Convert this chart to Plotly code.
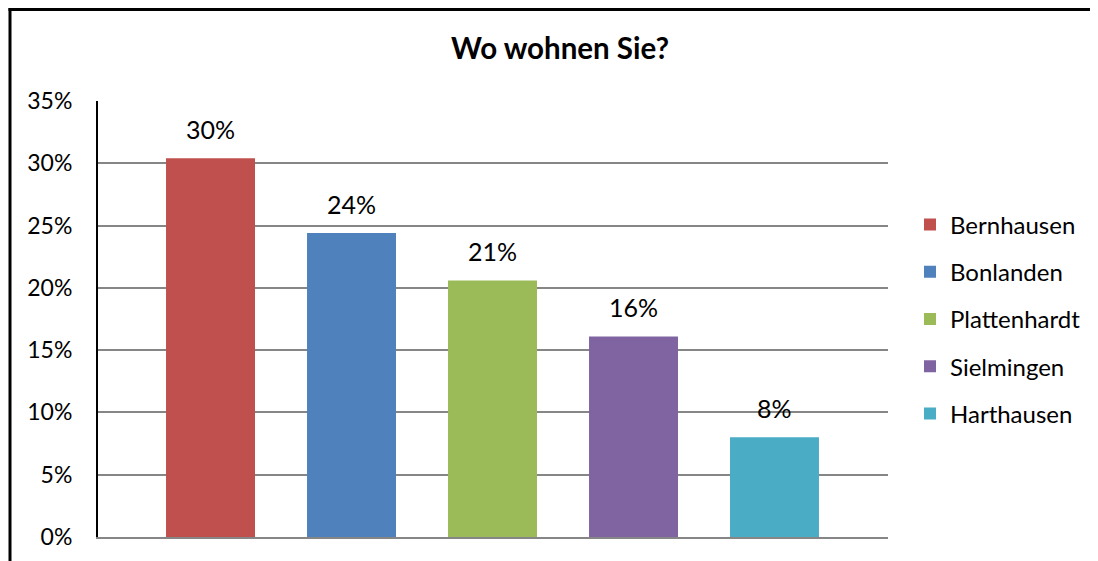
import plotly.graph_objects as go

categories = ["Bernhausen", "Bonlanden", "Plattenhardt", "Sielmingen", "Harthausen"]
values = [0.304, 0.244, 0.206, 0.161, 0.080]
colors = ["#C0504D", "#4F81BD", "#9BBB59", "#8064A2", "#4BACC6"]
tick_vals = [0, 0.05, 0.10, 0.15, 0.20, 0.25, 0.30, 0.35]
title_text = "Wo wohnen Sie?"

# page offset caused by default body margin (8px)
OFF = 8
W, H = 1098 - 2 * OFF, 561 - OFF
L, T, B = 98 - OFF, 101 - OFF, 24
R = W - (888 - OFF)
PW, PH = W - L - R, H - T - B
FONT = "Lato"

fig = go.Figure()
for cat, val, col in zip(categories, values, colors):
    fig.add_trace(go.Bar(
        x=[cat], y=[val], name=cat, marker_color=col, marker_line_width=0,
        width=0.631, legendgroup=cat, hoverinfo="skip",
    ))
    fig.add_annotation(
        x=cat, y=val, text=f"{val:.0%}", showarrow=False, yanchor="bottom",
        yshift=12, font=dict(family=FONT, size=25, color="#000000"),
    )

def px_x(p):
    return (p - OFF - L) / PW

def px_y(p):
    return (H - B - (p - OFF)) / PH

shapes = [
    dict(type="line", xref="paper", yref="paper", x0=px_x(8.5), x1=px_x(1110),
         y0=px_y(9.5), y1=px_y(9.5), line=dict(color="#000000", width=3)),
    dict(type="line", xref="paper", yref="paper", x0=px_x(10), x1=px_x(10),
         y0=px_y(8), y1=px_y(580), line=dict(color="#000000", width=3)),
]

fig.update_layout(
    width=W, height=H,
    margin=dict(l=L, r=R, t=T, b=B, autoexpand=False),
    paper_bgcolor="white", plot_bgcolor="white",
    barmode="overlay",
    font=dict(family=FONT, size=23, color="#000000"),
    title=dict(text=f"<b>{title_text}</b>", x=(560 - OFF) / W, xanchor="center",
               xref="container", y=1 - (49 - OFF) / H, yanchor="middle", yref="container",
               font=dict(family=FONT, size=29.5, color="#000000")),
    xaxis=dict(range=[-0.798, 4.805], showticklabels=False, showgrid=False,
               showline=True, linecolor="#868686", linewidth=2, ticks="",
               zeroline=False, fixedrange=True),
    yaxis=dict(range=[0, 0.35], tickvals=tick_vals, tickformat=".0%",
               showgrid=True, gridcolor="#868686", gridwidth=2,
               showline=True, linecolor="#000000", linewidth=2,
               zeroline=False, ticks="", ticklabelstandoff=19,
               tickfont=dict(family=FONT, size=23, color="#000000")),
    legend=dict(xref="container", x=(910 - OFF) / W, xanchor="left",
                y=0.5, yanchor="middle",
                font=dict(family=FONT, size=24, color="#000000"),
                tracegroupgap=13, bgcolor="rgba(0,0,0,0)"),
    shapes=shapes,
    showlegend=True,
)

fig.write_html("out.html")
